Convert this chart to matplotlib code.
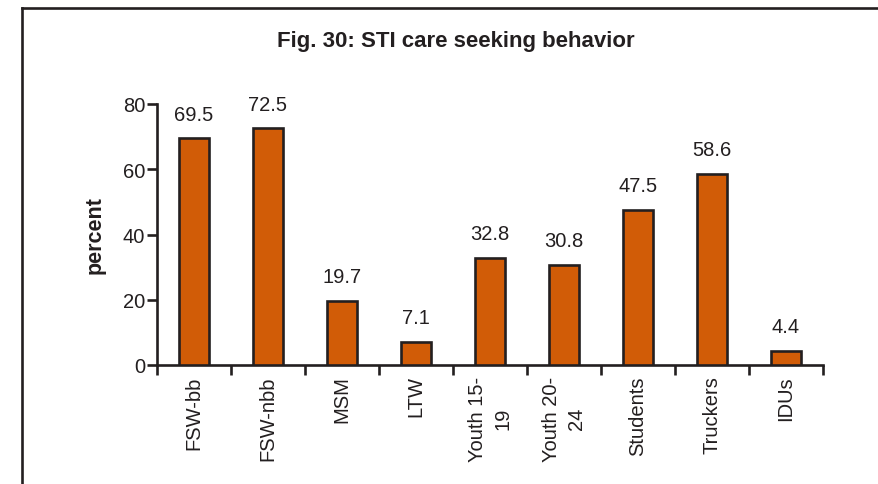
import matplotlib
matplotlib.use("Agg")
import matplotlib.pyplot as plt
from matplotlib.lines import Line2D
import numpy as np

categories = ["FSW-bb", "FSW-nbb", "MSM", "LTW", "Youth 15-\n19", "Youth 20-\n24",
              "Students", "Truckers", "IDUs"]
values = [69.5, 72.5, 19.7, 7.1, 32.8, 30.8, 47.5, 58.6, 4.4]
yticks = [0, 20, 40, 60, 80]
title = "Fig. 30: STI care seeking behavior"
ylabel = "percent"

plt.rcParams['font.family'] = ['Liberation Sans', 'DejaVu Sans']
txt = '#231f20'
bar_color = '#d15c07'

W, H = 879, 485
fig = plt.figure(figsize=(W / 100, H / 100), dpi=100)
fig.patch.set_facecolor('white')

ax = fig.add_axes([157 / W, 1 - 366 / H, (823 - 157) / W, (366 - 105) / H])
x = np.arange(len(categories))
bars = ax.bar(x, values, width=0.41, color=bar_color, edgecolor=txt, linewidth=1.9, zorder=3)

for xi, v in zip(x, values):
    ax.annotate(f"{v}", (xi, v), xytext=(0, 10.5), textcoords='offset points',
                ha='center', va='bottom', fontsize=14.5, color=txt)

ax.set_xlim(-0.5, len(categories) - 0.5)
ax.set_ylim(0, 80)
ax.set_yticks(yticks)
ax.set_yticklabels([str(t) for t in yticks])
ax.set_xticks(x)
ax.set_xticklabels(categories, rotation=90, multialignment='center', linespacing=1.45)
ax.set_xticks(np.arange(len(categories) + 1) - 0.5, minor=True)
ax.tick_params(axis='x', which='major', length=0, pad=7.5, labelsize=14.5, labelcolor=txt)
ax.tick_params(axis='x', which='minor', length=7, width=1.9, color=txt, direction='out')
ax.tick_params(axis='y', which='major', length=7, width=1.9, color=txt, pad=1.5,
               labelsize=14.5, labelcolor=txt)

for s in ['top', 'right']:
    ax.spines[s].set_visible(False)
for s in ['left', 'bottom']:
    ax.spines[s].set_linewidth(1.9)
    ax.spines[s].set_color(txt)

ax.set_ylabel(ylabel, fontsize=15.5, fontweight='bold', color=txt)
ax.yaxis.set_label_coords(-(157 - 106) / (823 - 157), 0.5)

fig.text(456 / W, 1 - 42 / H, title, ha='center', va='center', fontsize=16,
         fontweight='bold', color=txt)

# outer frame (extends past right and bottom edges)
fig.add_artist(Line2D([22 / W, 22 / W], [0, 1 - 9 / H], transform=fig.transFigure,
                      color=txt, linewidth=1.9))
fig.add_artist(Line2D([22 / W, 1], [1 - 9 / H, 1 - 9 / H], transform=fig.transFigure,
                      color=txt, linewidth=1.9))

fig.savefig("out.png", dpi=100)
